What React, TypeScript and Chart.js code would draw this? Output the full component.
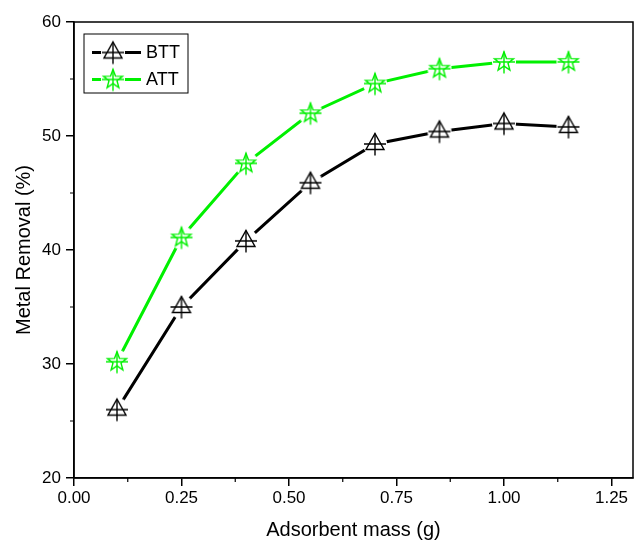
import React, { useEffect, useRef } from "react";
import { Chart, registerables } from "chart.js";
Chart.register(...registerables);

const massValues = [0.1, 0.25, 0.4, 0.55, 0.7, 0.85, 1.0, 1.15];
const bttValues = [26.0, 35.0, 40.8, 45.9, 49.3, 50.4, 51.1, 50.8];
const attValues = [30.2, 41.1, 47.6, 52.0, 54.6, 55.9, 56.5, 56.5];
const xTicks = [0, 0.25, 0.5, 0.75, 1.0, 1.25];
const yTicks = [20, 30, 40, 50, 60];
const seriesNames = ["BTT", "ATT"];
const BLACK = "#000000";
const GREEN = "#00f000";
const FONT = "'Liberation Sans', Arial, sans-serif";

function makeMarker(kind: "tri" | "star", color: string) {
  const s = 30;
  const c = document.createElement("canvas");
  c.width = s;
  c.height = s;
  const ctx = c.getContext("2d")!;
  const cx = s / 2, cy = s / 2;
  ctx.fillStyle = "#ffffff";
  ctx.beginPath();
  ctx.arc(cx, cy, 12, 0, Math.PI * 2);
  ctx.fill();
  ctx.strokeStyle = color;
  ctx.lineWidth = 1.4;
  ctx.beginPath();
  if (kind === "tri") {
    ctx.moveTo(cx, cy - 10.5);
    ctx.lineTo(cx + 9, cy + 5.5);
    ctx.lineTo(cx - 9, cy + 5.5);
    ctx.closePath();
  } else {
    const R = 10, r = 4.2;
    for (let i = 0; i < 10; i++) {
      const a = -Math.PI / 2 + (i * Math.PI) / 5;
      const rad = i % 2 === 0 ? R : r;
      const x = cx + rad * Math.cos(a), y = cy + rad * Math.sin(a);
      if (i === 0) ctx.moveTo(x, y); else ctx.lineTo(x, y);
    }
    ctx.closePath();
  }
  ctx.stroke();
  ctx.beginPath();
  ctx.moveTo(cx - 11, cy);
  ctx.lineTo(cx + 11, cy);
  ctx.moveTo(cx, cy - 10.5);
  ctx.lineTo(cx, cy + 11.5);
  ctx.stroke();
  return c;
}

export default function App() {
  const ref = useRef<HTMLCanvasElement>(null);
  useEffect(() => {
    document.body.style.margin = "0";
    const triM = makeMarker("tri", BLACK);
    const starM = makeMarker("star", GREEN);
    const markers = [triM, starM];
    const colors = [BLACK, GREEN];

    const framePlugin = {
      id: "frame",
      afterDraw(chart: any) {
        const { ctx, chartArea: a } = chart;
        const xs = chart.scales.x, ys = chart.scales.y;
        ctx.save();
        ctx.strokeStyle = "#000";
        ctx.lineWidth = 1.5;
        ctx.strokeRect(a.left, a.top, a.right - a.left, a.bottom - a.top);
        // minor ticks
        ctx.lineWidth = 1.2;
        ctx.beginPath();
        for (let v = 0.125; v < 1.3; v += 0.25) {
          const x = xs.getPixelForValue(v);
          ctx.moveTo(x, a.bottom);
          ctx.lineTo(x, a.bottom + 4);
        }
        for (let v = 25; v < 60; v += 10) {
          const y = ys.getPixelForValue(v);
          ctx.moveTo(a.left, y);
          ctx.lineTo(a.left - 4, y);
        }
        ctx.stroke();
        // legend
        const lx = 84, ly = 34, lw = 104, lh = 59;
        ctx.lineWidth = 1;
        ctx.strokeRect(lx, ly, lw, lh);
        ctx.font = "18px " + FONT;
        ctx.textBaseline = "middle";
        ctx.textAlign = "left";
        for (let i = 0; i < 2; i++) {
          const yy = ly + 18.5 + i * 27;
          ctx.strokeStyle = colors[i];
          ctx.lineWidth = 3;
          ctx.beginPath();
          ctx.moveTo(lx + 8, yy);
          ctx.lineTo(lx + 57, yy);
          ctx.stroke();
          ctx.drawImage(markers[i], lx + 29 - 15, yy - 15);
          ctx.fillStyle = "#000";
          ctx.fillText(seriesNames[i], lx + 62, yy + 1);
        }
        ctx.restore();
      },
    };

    const chart = new Chart(ref.current!, {
      type: "line",
      data: {
        datasets: [
          {
            label: seriesNames[0],
            data: massValues.map((x, i) => ({ x, y: bttValues[i] })),
            borderColor: BLACK,
            borderWidth: 3,
            pointStyle: triM as any,
            pointRadius: 12,
            tension: 0,
            fill: false,
          },
          {
            label: seriesNames[1],
            data: massValues.map((x, i) => ({ x, y: attValues[i] })),
            borderColor: GREEN,
            borderWidth: 3,
            pointStyle: starM as any,
            pointRadius: 12,
            tension: 0,
            fill: false,
          },
        ],
      },
      options: {
        animation: false,
        responsive: false,
        layout: { autoPadding: false, padding: { left: 0, top: 22, right: 5, bottom: 0 } },
        plugins: { legend: { display: false }, tooltip: { enabled: false } },
        scales: {
          x: {
            type: "linear",
            min: 0,
            max: 1.3,
            afterBuildTicks: (s: any) => {
              s.ticks = xTicks.map((v) => ({ value: v }));
            },
            afterFit: (s: any) => {
              s.height = 65;
            },
            ticks: {
              color: "#000",
              font: { size: 17, family: FONT },
              padding: 2,
              maxRotation: 0,
              callback: (v: any) => Number(v).toFixed(2),
            },
            grid: { drawOnChartArea: false, color: "#000", tickLength: 8, lineWidth: 1.5 },
            border: { color: "#000", width: 1.5 },
            title: {
              display: true,
              text: "Adsorbent mass (g)",
              color: "#000",
              font: { size: 20, family: FONT },
              padding: { top: 0, bottom: 1 },
            },
          },
          y: {
            min: 20,
            max: 60,
            afterBuildTicks: (s: any) => {
              s.ticks = yTicks.map((v) => ({ value: v }));
            },
            afterFit: (s: any) => {
              s.width = 74;
            },
            ticks: {
              color: "#000",
              font: { size: 17, family: FONT },
              padding: 5,
            },
            grid: { drawOnChartArea: false, color: "#000", tickLength: 8, lineWidth: 1.5 },
            border: { color: "#000", width: 1.5 },
            title: {
              display: true,
              text: "Metal Removal (%)",
              color: "#000",
              font: { size: 20, family: FONT },
              padding: { top: 12, bottom: 0 },
            },
          },
        },
      },
      plugins: [framePlugin],
    });
    return () => chart.destroy();
  }, []);
  return <canvas ref={ref} width={638} height={543} style={{ display: "block" }} />;
}
